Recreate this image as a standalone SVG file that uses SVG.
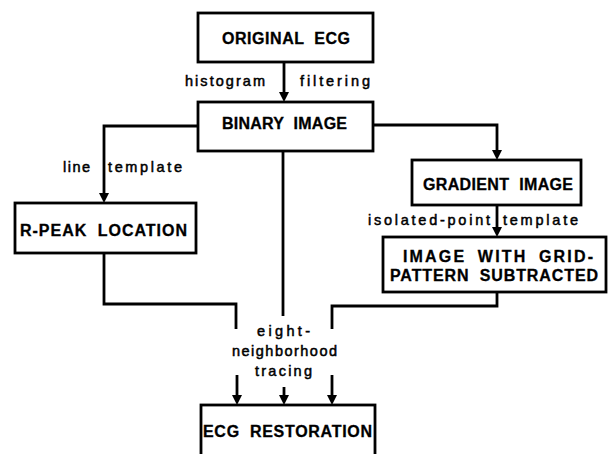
<svg xmlns="http://www.w3.org/2000/svg" width="609" height="454" viewBox="0 0 609 454">
  <style>
    .box { fill: #fff; stroke: #000; stroke-width: 2.8; }
    .bt { font-family: "Liberation Sans", Arial, sans-serif; font-weight: bold; font-size: 16px; fill: #000; stroke: #000; stroke-width: 0.3; word-spacing: 5px; }
    .lb { font-family: "Liberation Sans", Arial, sans-serif; font-size: 14.5px; fill: #000; stroke: #000; stroke-width: 0.5; }
    .c { fill: none; stroke: #000; stroke-width: 2.8; }
    .a { fill: none; stroke: #000; stroke-width: 2.8; marker-end: url(#ah); }
  </style>
  <defs>
    <marker id="ah" viewBox="0 0 10 10" refX="5" refY="5" markerWidth="10" markerHeight="10" markerUnits="userSpaceOnUse" orient="auto">
      <path d="M0,0 L10,5 L0,10 z" fill="#000"/>
    </marker>
  </defs>
  <rect width="609" height="454" fill="#fff"/>

  <g id="connectors">
    <path class="a" d="M284,62 V97"/>
    <path class="a" d="M198,126 H104 V198"/>
    <path class="a" d="M373,125 H497 V155"/>
    <path class="a" d="M497,205 V232"/>
    <path class="c" d="M283,151 V316"/>
    <path class="c" d="M104,253 V304 H236 V329"/>
    <path class="c" d="M497,292 V306 H332 V329"/>
    <path class="a" d="M237,375 V400"/>
    <path class="a" d="M284,387 V400"/>
    <path class="a" d="M332,375 V400"/>
  </g>

  <g id="labels">
    <text class="lb" x="185" y="86" textLength="80" lengthAdjust="spacing">histogram</text>
    <text class="lb" x="300" y="86" textLength="70" lengthAdjust="spacing">filtering</text>
    <text class="lb" x="63" y="172" textLength="27" lengthAdjust="spacing">line</text>
    <text class="lb" x="108" y="172" textLength="74" lengthAdjust="spacing">template</text>
    <text class="lb" x="368" y="225" textLength="122" lengthAdjust="spacing">isolated-point</text>
    <text class="lb" x="503" y="225" textLength="75" lengthAdjust="spacing">template</text>
    <text class="lb" x="257" y="336" textLength="53" lengthAdjust="spacing">eight-</text>
    <text class="lb" x="232" y="356" textLength="105" lengthAdjust="spacing">neighborhood</text>
    <text class="lb" x="255" y="376" textLength="57" lengthAdjust="spacing">tracing</text>
  </g>

  <g id="original-ecg">
    <rect class="box" x="198" y="13" width="175" height="49"/>
    <text class="bt" x="222" y="44" textLength="128" lengthAdjust="spacing">ORIGINAL ECG</text>
  </g>
  <g id="binary-image">
    <rect class="box" x="198" y="102" width="175" height="49"/>
    <text class="bt" x="222" y="129" textLength="125" lengthAdjust="spacing">BINARY IMAGE</text>
  </g>
  <g id="r-peak-location">
    <rect class="box" x="15" y="203" width="181" height="50"/>
    <text class="bt" x="20" y="236" textLength="167" lengthAdjust="spacing">R-PEAK LOCATION</text>
  </g>
  <g id="gradient-image">
    <rect class="box" x="412" y="160" width="169" height="45"/>
    <text class="bt" x="423" y="190" textLength="150" lengthAdjust="spacing">GRADIENT IMAGE</text>
  </g>
  <g id="grid-subtracted">
    <rect class="box" x="383" y="237" width="223" height="55"/>
    <text class="bt" x="403" y="262" textLength="190" lengthAdjust="spacing">IMAGE WITH GRID-</text>
    <text class="bt" x="390" y="281" textLength="208" lengthAdjust="spacing">PATTERN SUBTRACTED</text>
  </g>
  <g id="ecg-restoration">
    <rect class="box" x="201" y="405" width="174" height="55"/>
    <text class="bt" x="203" y="437" textLength="169" lengthAdjust="spacing">ECG RESTORATION</text>
  </g>
</svg>
